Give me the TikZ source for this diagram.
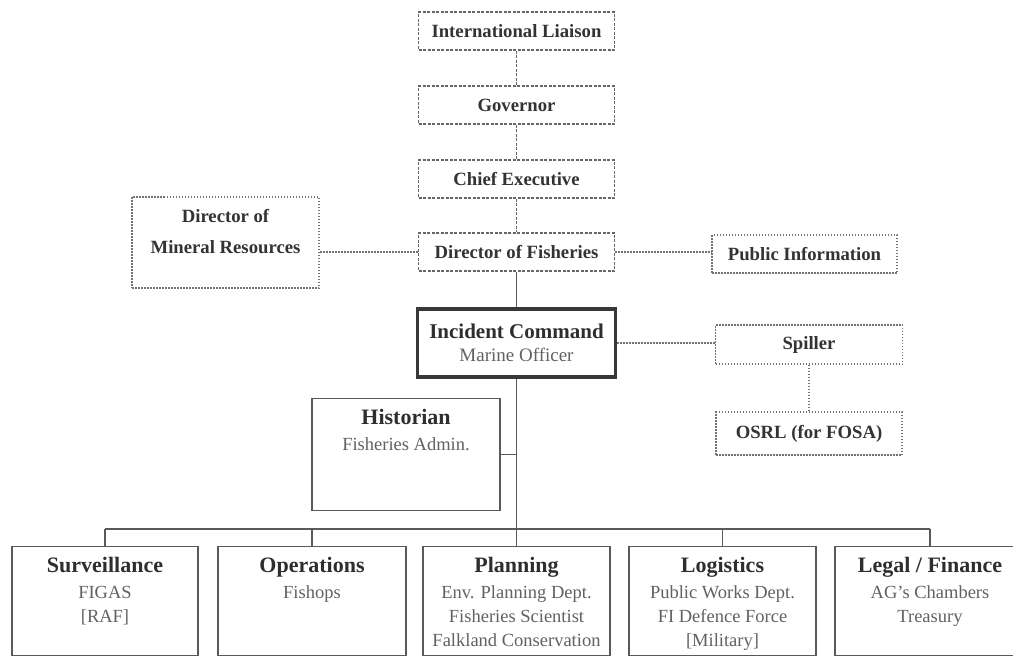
\documentclass[tikz,border=0pt]{standalone}
\usepackage{fontspec}
\setmainfont{Liberation Serif}

% fonts for the boxes
\newcommand{\unithead}{\fontsize{22}{24}\selectfont\bfseries\color{black!82}}
\newcommand{\unitsub}{\fontsize{18.5}{24}\selectfont\mdseries\color{black!62}}
\newcommand{\unitlabel}[4]{\parbox[t][#1][t]{#2}{\centering\vspace*{11pt}{\unithead #3}\\[2pt]{\unitsub #4}}}

\begin{document}
\begin{tikzpicture}[x=1pt,y=-1pt,
		chainbox/.style={draw=black!60, dash pattern=on 3pt off 1.5pt, line width=1.2pt,
			minimum width=196pt, minimum height=38pt, inner sep=0pt,
			text=black!80, font=\fontsize{18.7}{24}\selectfont\bfseries},
		sidebox/.style={draw=black!55, dash pattern=on 1.5pt off 1.5pt, line width=1.2pt,
			minimum height=38pt, inner sep=0pt,
			text=black!80, font=\fontsize{18.7}{24}\selectfont\bfseries},
		commandbox/.style={draw=black!78, line width=3.5pt, minimum width=198pt,
			minimum height=68pt, inner sep=0pt, align=center,
			text=black!82, font=\fontsize{21}{23}\selectfont\bfseries},
		unitbox/.style={draw=black!65, line width=1.4pt, inner sep=0pt, anchor=north,
			font=\fontsize{18.5}{24}\selectfont},
		solidlink/.style={draw=black!65, line width=1.5pt},
		dashlink/.style={draw=black!60, dash pattern=on 3pt off 1.5pt, line width=1.2pt},
		dotlink/.style={draw=black!55, dash pattern=on 1.5pt off 1.5pt, line width=1.2pt}]

		% Frame
		\useasboundingbox (0,0) rectangle (1013,657);
		\clip (0,0) rectangle (1013,657);

		% Top Chain
		\node[chainbox] (liaison) at (516.5,31) {International Liaison};
		\node[chainbox] (governor) at (516.5,105) {Governor};
		\node[chainbox] (chiefexec) at (516.5,179) {Chief Executive};
		\node[chainbox] (dirfish) at (516.5,252) {Director of Fisheries};

		% -- side boxes
		\node[sidebox] (mineral) at (225.5,242.5)
			{\parbox[t][91pt][t]{187pt}{\centering\vspace*{12pt}Director of\\[7pt]Mineral Resources}};
		\node[sidebox, minimum width=185pt] (pubinfo) at (804.5,254) {Public Information};

		% Incident Command
		\node[commandbox] (incident) at (516.5,343)
			{Incident Command\\{\fontsize{19}{23}\selectfont\mdseries\color{black!62}Marine Officer}};
		\node[sidebox, minimum width=187pt, minimum height=39pt] (spiller) at (809,344.5) {Spiller};
		\node[sidebox, minimum width=186pt, minimum height=43pt] (osrl) at (809,433.5) {OSRL (for FOSA)};

		% Historian
		\node[unitbox] (historian) at (406,398) {\unitlabel{112pt}{188pt}{Historian}{Fisheries Admin.}};

		% Sections
		\node[unitbox] (surv) at (105,546) {\unitlabel{109pt}{186pt}{Surveillance}{FIGAS\\{}[RAF]}};
		\node[unitbox] (ops) at (312,546) {\unitlabel{109pt}{188pt}{Operations}{Fishops}};
		\node[unitbox] (plan) at (516.5,546)
			{\unitlabel{109pt}{187pt}{Planning}{Env. Planning Dept.\\Fisheries Scientist\\Falkland Conservation}};
		\node[unitbox] (logi) at (722.5,546)
			{\unitlabel{109pt}{187pt}{Logistics}{Public Works Dept.\\FI Defence Force\\{}[Military]}};
		\node[unitbox] (legal) at (930,546) {\unitlabel{109pt}{190pt}{Legal / Finance}{AG's Chambers\\Treasury}};

		% Links
		\draw[dashlink] (liaison) -- (governor);
		\draw[dashlink] (governor) -- (chiefexec);
		\draw[dashlink] (chiefexec) -- (dirfish);
		\draw[solidlink] (dirfish) -- (incident);
		\draw[dotlink] (dirfish.west) -- (dirfish.west -| mineral.east);
		\draw[dotlink] (dirfish.east) -- (dirfish.east -| pubinfo.west);
		\draw[dotlink] (incident.east) -- (incident.east -| spiller.west);
		\draw[dotlink] (spiller) -- (osrl);

		% -- bus to sections
		\coordinate (busjoin) at (516.5,529);
		\draw[solidlink] (incident) -- (busjoin);
		\draw[solidlink] (historian.east) -- (historian.east -| busjoin);
		\draw[solidlink] (surv.north |- busjoin) -- (legal.north |- busjoin);
		\foreach \u in {surv,ops,plan,logi,legal}
			\draw[solidlink] (\u.north |- busjoin) -- (\u.north);
	\end{tikzpicture}
\end{document}
